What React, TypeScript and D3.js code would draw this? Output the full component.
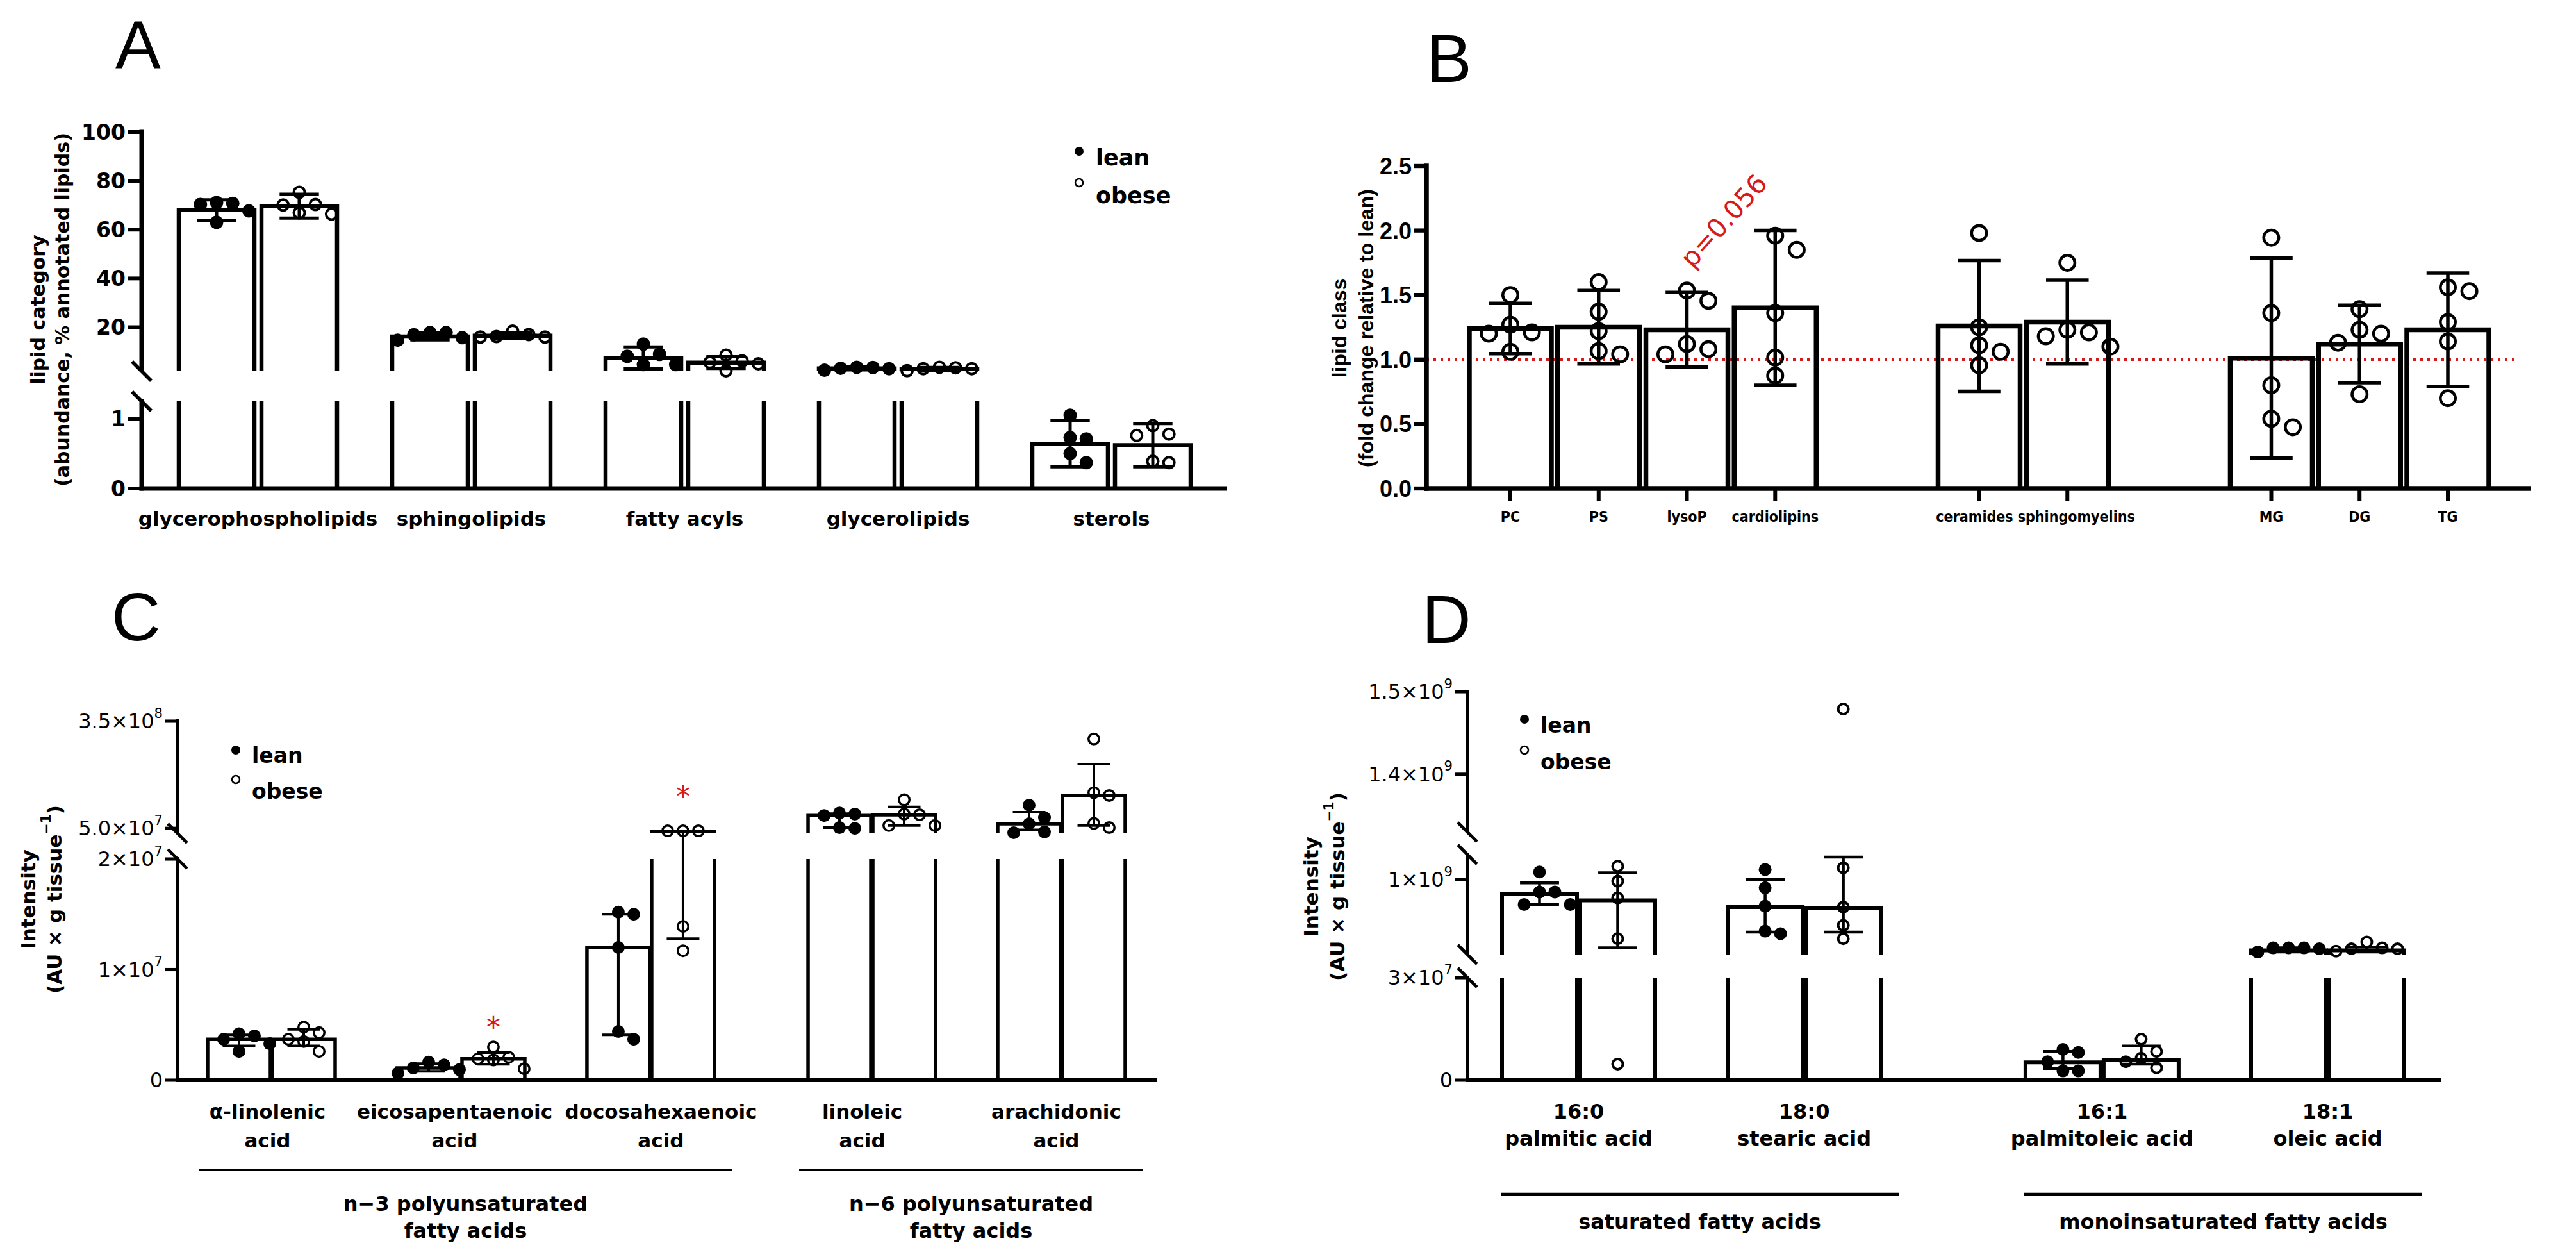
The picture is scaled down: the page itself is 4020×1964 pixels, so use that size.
import React from 'react';
import * as d3 from 'd3';

type Seg = { domain: [number, number]; range: [number, number] };
type Tick = [number, string];

// ---------- Panel A: lipid categories, % of annotated lipids (mean ± SD)
const aCategories = ['glycerophospholipids', 'sphingolipids', 'fatty acyls', 'glycerolipids', 'sterols'];
const aLeanMean = [68.0, 16.2, 7.4, 3.1, 0.64];
const aLeanSd = [4.2, 1.4, 4.5, 0.6, 0.33];
const aLeanPts = [
  [71.1, 70.3, 63.0, 67.7, 70.8],
  [17.8, 16.9, 14.7, 15.7, 17.8],
  [13.1, 8.1, 4.7, 4.7, 8.9],
  [3.6, 3.2, 2.4, 3.0, 3.5],
  [1.05, 0.73, 0.71, 0.5, 0.37],
];
const aObeseMean = [69.6, 16.5, 5.5, 2.9, 0.62];
const aObeseSd = [4.9, 1.1, 2.4, 0.6, 0.31];
const aObesePts = [
  [70.3, 66.4, 75.3, 66.9, 70.1],
  [18.4, 16.0, 16.0, 16.2, 17.0],
  [8.6, 5.0, 2.1, 5.6, 6.2],
  [3.6, 3.0, 2.2, 3.0, 3.4],
  [0.9, 0.78, 0.76, 0.39, 0.37],
];
const aYTicks: Tick[] = [[0, '0'], [1, '1'], [20, '20'], [40, '40'], [60, '60'], [80, '80'], [100, '100']];

// ---------- Panel B: lipid classes, fold change obese vs lean (mean ± SD)
const bClasses = ['PC', 'PS', 'lysoP', 'cardiolipins', 'ceramides', 'sphingomyelins', 'MG', 'DG', 'TG'];
const bClassGroup = [0, 0, 0, 0, 1, 1, 2, 2, 2];
const bMean = [1.24, 1.25, 1.23, 1.4, 1.26, 1.29, 1.01, 1.12, 1.23];
const bSd = [0.195, 0.285, 0.29, 0.6, 0.507, 0.325, 0.775, 0.3, 0.44];
const bPts = [
  [1.5, 1.27, 1.21, 1.2, 1.06],
  [1.6, 1.37, 1.22, 1.065, 1.04],
  [1.535, 1.455, 1.12, 1.08, 1.04],
  [1.96, 1.85, 1.36, 1.015, 0.875],
  [1.98, 1.25, 1.11, 1.06, 0.955],
  [1.75, 1.23, 1.21, 1.18, 1.1],
  [1.945, 1.36, 0.8, 0.54, 0.475],
  [1.39, 1.23, 1.2, 1.13, 0.73],
  [1.56, 1.53, 1.29, 1.14, 0.7],
];
const bYTicks: Tick[] = [[0, '0.0'], [0.5, '0.5'], [1, '1.0'], [1.5, '1.5'], [2, '2.0'], [2.5, '2.5']];
const bReference = 1.0;
const bPValue = { text: 'p=0.056', cls: 3, value: 1.7 };

// ---------- Panel C: polyunsaturated fatty acids (median, IQR)
const cAcids = ['α-linolenic\nacid', 'eicosapentaenoic\nacid', 'docosahexaenoic\nacid', 'linoleic\nacid', 'arachidonic\nacid'];
const cFamily = [0, 0, 0, 1, 1];
const cFamilies = ['n−3 polyunsaturated\nfatty acids', 'n−6 polyunsaturated\nfatty acids'];
const cLeanMedian = [3.7e6, 1.1e6, 1.2e7, 8.6e7, 6.3e7];
const cLeanIqr = [[3.1e6, 4.1e6], [0.8e6, 1.5e6], [4.1e6, 1.5e7], [5.2e7, 9.1e7], [4.6e7, 9.5e7]];
const cLeanPts = [
  [4.2e6, 3.7e6, 2.6e6, 3.3e6, 4.0e6],
  [1.64e6, 0.95e6, 0.63e6, 1.1e6, 1.38e6],
  [1.5e7, 1.52e7, 1.2e7, 3.7e6, 4.4e6],
  [9.3e7, 8.6e7, 5.0e7, 5.2e7, 9.0e7],
  [6.3e7, 3.8e7, 1.15e8, 4.0e7, 8.0e7],
];
const cObeseMedian = [3.7e6, 1.93e6, 4.2e7, 8.8e7, 1.42e8];
const cObeseIqr = [[3.1e6, 4.6e6], [1.43e6, 2.5e6], [1.28e7, 4.3e7], [5.8e7, 1.1e8], [5.8e7, 2.3e8]];
const cObesePts = [
  [3.7e6, 2.6e6, 4.8e6, 3.5e6, 4.3e6],
  [1.93e6, 1.03e6, 3.0e6, 1.83e6, 2.07e6],
  [4.3e7, 4.3e7, 4.3e7, 1.39e7, 1.17e7],
  [9.0e7, 5.8e7, 1.3e8, 5.8e7, 8.8e7],
  [3.0e8, 1.5e8, 1.42e8, 5.2e7, 6.4e7],
];
const cStars: [number, number][] = [[1, 5.3e6], [2, 1.55e8]];
const cYTicks: Tick[] = [[0, '0'], [1e7, '1×10^{7}'], [2e7, '2×10^{7}'], [5e7, '5.0×10^{7}'], [3.5e8, '3.5×10^{8}']];

// ---------- Panel D: saturated / monounsaturated fatty acids (median, IQR)
const dAcids = ['16:0\npalmitic acid', '18:0\nstearic acid', '16:1\npalmitoleic acid', '18:1\noleic acid'];
const dFamily = [0, 0, 1, 1];
const dFamilies = ['saturated fatty acids', 'monoinsaturated fatty acids'];
const dLeanMedian = [9.83e8, 9.67e8, 5.2e6, 9.15e8];
const dLeanIqr = [[9.7e8, 9.96e8], [9.37e8, 1.0e9], [3.4e6, 8.4e6], [9.13e8, 9.18e8]];
const dLeanPts = [
  [9.85e8, 9.7e8, 1.009e9, 9.7e8, 9.85e8],
  [1.012e9, 9.9e8, 9.68e8, 9.35e8, 9.38e8],
  [5.4e6, 2.7e6, 9.0e6, 2.7e6, 8.1e6],
  [9.18e8, 9.18e8, 9.13e8, 9.17e8, 9.18e8],
];
const dObeseMedian = [9.75e8, 9.66e8, 6.0e6, 9.15e8];
const dObeseIqr = [[9.18e8, 1.008e9], [9.37e8, 1.027e9], [4.7e6, 1.0e7], [9.13e8, 9.19e8]];
const dObesePts = [
  [1.016e9, 9.98e8, 9.78e8, 9.29e8, 4.7e6],
  [1.479e9, 1.014e9, 9.67e8, 9.45e8, 9.29e8],
  [6.4e6, 3.6e6, 1.2e7, 5.4e6, 8.4e6],
  [9.25e8, 9.17e8, 9.14e8, 9.17e8, 9.18e8],
];
const dYTicks: Tick[] = [[0, '0'], [3e7, '3×10^{7}'], [1e9, '1×10^{9}'], [1.4e9, '1.4×10^{9}'], [1.5e9, '1.5×10^{9}']];

const LUC = '"DejaVu Sans", Verdana, sans-serif';
const LUC_COND = '"DejaVu Sans Condensed", "DejaVu Sans", sans-serif';
const ARIAL = '"Liberation Sans", Arial, sans-serif';
const RED = '#d7191c';

// small sideways nudges of category labels (as laid out in the figure)
const bLabelNudge = [0, 0, 0, 0, -7, 14, 0, 0, 0];
const cLabelNudge = [-6, -10, 16, -15, -8];

// piecewise (broken) y scale
function brokenY(segs: Seg[]) {
  const sc = segs.map(s => d3.scaleLinear().domain(s.domain).range(s.range));
  const y = (v: number) => {
    for (let i = 0; i < segs.length; i++) {
      const d = segs[i].domain;
      if (v <= d[1] || i === segs.length - 1) return sc[i](i > 0 ? Math.max(v, d[0]) : v);
    }
    return 0;
  };
  return { sc, y };
}

// spread overlapping points sideways, like a column scatter
function swarm(vals: number[], y: (v: number) => number, r: number, step: number) {
  const order = vals.map((_, i) => i).sort((a, b) => vals[b] - vals[a]);
  const placed: { x: number; y: number }[] = [];
  const out: { dx: number; y: number }[] = new Array(vals.length);
  const cands = [0, 1, -1, 2, -2, 3, -3];
  for (const i of order) {
    const py = y(vals[i]);
    let px = 0;
    for (const c of cands) {
      const cx = c * step;
      if (!placed.some(p => Math.abs(p.x - cx) < step * 0.9 && Math.abs(p.y - py) < 2 * r)) { px = cx; break; }
    }
    placed.push({ x: px, y: py });
    out[i] = { dx: px, y: py };
  }
  return out;
}

function rich(s: string, fs: number) {
  const parts = s.split(/\^\{([^}]*)\}/);
  return parts.map((p, i) => {
    if (i % 2 === 1) return <tspan key={i} dy={-0.42 * fs} fontSize={fs * 0.66}>{p}</tspan>;
    if (i > 0) return <tspan key={i} dy={0.42 * fs}>{p}</tspan>;
    return <tspan key={i}>{p}</tspan>;
  });
}

type BarSpec = { x0: number; w: number; value: number; lo: number; hi: number; pts: number[]; filled: boolean };

type PanelProps = {
  id: string; segs: Seg[]; axisX: number; axisEnd: number; axisW: number; tickLen: number;
  ticks: Tick[]; tickFont: string; tickSize: number; tickWeight: string | number;
  bars: BarSpec[]; barStroke: number; errStroke: number; r: number; ptStroke: number;
  xTicks?: number[];
};

function Panel(p: PanelProps) {
  const { sc, y } = brokenY(p.segs);
  const y0 = p.segs[0].range[0];
  const els: React.ReactNode[] = [];
  const k = (s: string) => p.id + s + els.length;

  p.segs.forEach((s, i) => {
    const yb = i === 0 ? y0 + p.axisW / 2 : s.range[0];
    els.push(<line key={k('ya')} x1={p.axisX} x2={p.axisX} y1={yb} y2={s.range[1] - p.axisW / 2} stroke="#000" strokeWidth={p.axisW} />);
  });
  for (let i = 0; i < p.segs.length - 1; i++) {
    [p.segs[i].range[1], p.segs[i + 1].range[0]].forEach(by => {
      els.push(<line key={k('br')} x1={p.axisX - 15} y1={by - 15} x2={p.axisX + 15} y2={by + 15} stroke="#000" strokeWidth={p.axisW * 0.8} />);
    });
  }
  els.push(<line key={k('xa')} x1={p.axisX - p.axisW / 2} x2={p.axisEnd} y1={y0} y2={y0} stroke="#000" strokeWidth={p.axisW} />);
  p.ticks.forEach(([v, lab]) => {
    const ty = y(v);
    els.push(<line key={k('t')} x1={p.axisX - p.tickLen} x2={p.axisX} y1={ty} y2={ty} stroke="#000" strokeWidth={p.axisW * 0.85} />);
    els.push(
      <text key={k('tl')} x={p.axisX - p.tickLen - 3} y={ty} textAnchor="end" dominantBaseline="central"
        fontFamily={p.tickFont} fontSize={p.tickSize} fontWeight={p.tickWeight}>{rich(lab, p.tickSize)}</text>
    );
  });
  (p.xTicks || []).forEach(cx => {
    els.push(<line key={k('xt')} x1={cx} x2={cx} y1={y0} y2={y0 + 20} stroke="#000" strokeWidth={p.axisW * 0.8} />);
  });

  // bar outlines, cut at the axis breaks
  p.bars.forEach(b => {
    const x1 = b.x0 + b.w;
    let d = '';
    p.segs.forEach((s, i) => {
      if (i > 0 && b.value <= s.domain[0]) return;
      if (b.value <= 0) return;
      const yb = s.range[0];
      const ends = b.value <= s.domain[1] || i === p.segs.length - 1;
      const yt = sc[i](Math.min(b.value, s.domain[1]));
      d += ends ? `M${b.x0},${yb}V${yt}H${x1}V${yb}` : `M${b.x0},${yb}V${yt}M${x1},${yt}V${yb}`;
    });
    els.push(<path key={k('bar')} d={d} fill="none" stroke="#000" strokeWidth={p.barStroke} strokeLinejoin="miter" />);
  });

  p.bars.forEach(b => {
    const cx = b.x0 + b.w / 2;
    const cw = b.w * 0.26;
    const yl = y(b.lo), yh = y(b.hi);
    els.push(
      <path key={k('err')} d={`M${cx},${yl}V${yh}M${cx - cw},${yh}H${cx + cw}M${cx - cw},${yl}H${cx + cw}`}
        fill="none" stroke="#000" strokeWidth={p.errStroke} />
    );
  });

  p.bars.forEach(b => {
    const cx = b.x0 + b.w / 2;
    swarm(b.pts, y, p.r, p.r * 2.4).forEach(pt => {
      els.push(
        <circle key={k('pt')} cx={cx + pt.dx} cy={pt.y} r={b.filled ? p.r : p.r - p.ptStroke / 2}
          fill={b.filled ? '#000' : 'none'} stroke="#000" strokeWidth={b.filled ? 0 : p.ptStroke} />
      );
    });
  });

  return <g>{els}</g>;
}

function YLabel({ cx, cy, gap, lines, font, size }: { cx: number; cy: number; gap: number; lines: string[]; font: string; size: number }) {
  return (
    <g transform={`translate(${cx},${cy}) rotate(-90)`}>
      {lines.map((l, i) => (
        <text key={i} x={0} y={(i - (lines.length - 1) / 2) * gap} textAnchor="middle" dominantBaseline="middle"
          fontFamily={font} fontWeight="bold" fontSize={size}>{rich(l, size)}</text>
      ))}
    </g>
  );
}

function Legend({ x, yLean, yObese, tx, bLean, bObese, size }: { x: number; yLean: number; yObese: number; tx: number; bLean: number; bObese: number; size: number }) {
  return (
    <g fontFamily={LUC} fontWeight="bold" fontSize={size}>
      <circle cx={x} cy={yLean} r={7} fill="#000" />
      <text x={tx} y={bLean}>lean</text>
      <circle cx={x} cy={yObese} r={6} fill="none" stroke="#000" strokeWidth={2.5} />
      <text x={tx} y={bObese}>obese</text>
    </g>
  );
}

function MultiLine({ x, y, gap, s, size, font = LUC }: { x: number; y: number; gap: number; s: string; size: number; font?: string }) {
  return (
    <text textAnchor="middle" fontFamily={font} fontWeight="bold" fontSize={size}>
      {s.split('\n').map((l, i) => <tspan key={i} x={x} y={y + i * gap}>{l}</tspan>)}
    </text>
  );
}

export default function App() {
  // ----- A layout
  const aSegs: Seg[] = [
    { domain: [0, 1.25], range: [762, 626] },
    { domain: [2, 100], range: [579, 206] },
  ];
  const aX = d3.scaleLinear().domain([0, aCategories.length - 1]).range([279, 1611]);
  const aW = 118, aOff = 129;
  const aBars: BarSpec[] = [];
  aCategories.forEach((_, i) => {
    aBars.push({ x0: aX(i), w: aW, value: aLeanMean[i], lo: aLeanMean[i] - aLeanSd[i], hi: aLeanMean[i] + aLeanSd[i], pts: aLeanPts[i], filled: true });
    aBars.push({ x0: aX(i) + aOff, w: aW, value: aObeseMean[i], lo: aObeseMean[i] - aObeseSd[i], hi: aObeseMean[i] + aObeseSd[i], pts: aObesePts[i], filled: false });
  });

  // ----- B layout
  const bGap = 1.31;
  const bSlot = (i: number) => i + bClassGroup[i] * bGap;
  const bX = d3.scaleLinear().domain([0, bSlot(bClasses.length - 1)]).range([2357, 3820]);
  const bSegs: Seg[] = [{ domain: [0, 2.5], range: [762, 259] }];
  const bYs = d3.scaleLinear().domain([0, 2.5]).range([762, 259]);
  const bW = 128;
  const bBars: BarSpec[] = bClasses.map((_, i) => ({
    x0: bX(bSlot(i)) - bW / 2, w: bW, value: bMean[i], lo: bMean[i] - bSd[i], hi: bMean[i] + bSd[i], pts: bPts[i], filled: false,
  }));

  // ----- C layout
  const cGap = 0.166;
  const cSlot = (i: number) => i + cFamily[i] * cGap;
  const cX = d3.scaleLinear().domain([0, cSlot(cAcids.length - 1)]).range([324, 1557]);
  const cSegs: Seg[] = [
    { domain: [0, 2e7], range: [1685, 1340] },
    { domain: [3.6e7, 3.5e8], range: [1300, 1125] },
  ];
  const cW = 98, cOff = 101;
  const cBars: BarSpec[] = [];
  cAcids.forEach((_, i) => {
    const x = cX(cSlot(i));
    cBars.push({ x0: x, w: cW, value: cLeanMedian[i], lo: cLeanIqr[i][0], hi: cLeanIqr[i][1], pts: cLeanPts[i], filled: true });
    cBars.push({ x0: x + cOff, w: cW, value: cObeseMedian[i], lo: cObeseIqr[i][0], hi: cObeseIqr[i][1], pts: cObesePts[i], filled: false });
  });
  const cY = brokenY(cSegs).y;

  // ----- D layout
  const dGap = 0.32;
  const dSlot = (i: number) => i + dFamily[i] * dGap;
  const dX = d3.scaleLinear().domain([0, dSlot(dAcids.length - 1)]).range([2344, 3513]);
  const dSegs: Seg[] = [
    { domain: [0, 3e7], range: [1685, 1525] },
    { domain: [9.1e8, 1.03e9], range: [1489, 1333] },
    { domain: [1.33e9, 1.5e9], range: [1298, 1079] },
  ];
  const dW = 117, dOff = 122;
  const dBars: BarSpec[] = [];
  dAcids.forEach((_, i) => {
    const x = dX(dSlot(i));
    dBars.push({ x0: x, w: dW, value: dLeanMedian[i], lo: dLeanIqr[i][0], hi: dLeanIqr[i][1], pts: dLeanPts[i], filled: true });
    dBars.push({ x0: x + dOff, w: dW, value: dObeseMedian[i], lo: dObeseIqr[i][0], hi: dObeseIqr[i][1], pts: dObesePts[i], filled: false });
  });

  const familyLine = (members: number[], left: (i: number) => number, w: number, off: number, padL: number, padR: number) => {
    const x1 = left(members[0]) - padL;
    const x2 = left(members[members.length - 1]) + off + w + padR;
    return [x1, x2];
  };

  return (
    <div>
      <style>{'body{margin:0;background:#fff}'}</style>
      <svg width={4020} height={1964} viewBox="0 0 4020 1964" style={{ display: 'block', background: '#fff' }}>
        {/* panel letters */}
        <g fontFamily={ARIAL} fontSize={106}>
          <text x={180} y={106}>A</text>
          <text x={2226} y={128}>B</text>
          <text x={174} y={999}>C</text>
          <text x={2219} y={1003}>D</text>
        </g>

        {/* ===== A ===== */}
        <Panel id="a" segs={aSegs} axisX={221} axisEnd={1915} axisW={7} tickLen={22} ticks={aYTicks}
          tickFont={LUC} tickSize={33} tickWeight="bold" bars={aBars} barStroke={6.5} errStroke={5} r={10.5} ptStroke={4} />
        <YLabel cx={80} cy={483} gap={38} lines={['lipid category', '(abundance, % annotated lipids)']} font={LUC} size={30} />
        {aCategories.map((c, i) => (
          <text key={c} x={aX(i) + (aOff + aW) / 2} y={820} textAnchor="middle" fontFamily={LUC} fontWeight="bold" fontSize={31}>{c}</text>
        ))}
        <Legend x={1684} yLean={236} yObese={285} tx={1710} bLean={258} bObese={317} size={35} />

        {/* ===== B ===== */}
        <line x1={2226} x2={3928} y1={bYs(bReference)} y2={bYs(bReference)} stroke={RED} strokeWidth={4.5} strokeDasharray="4 7" />
        <Panel id="b" segs={bSegs} axisX={2226} axisEnd={3950} axisW={7.5} tickLen={20} ticks={bYTicks}
          tickFont={ARIAL} tickSize={36} tickWeight="bold" bars={bBars} barStroke={7.5} errStroke={5.5} r={14} ptStroke={4.5}
          xTicks={bClasses.map((_, i) => bX(bSlot(i)))} />
        <YLabel cx={2114} cy={512} gap={42} lines={['lipid class', '(fold change relative to lean)']} font={ARIAL} size={32} />
        {bClasses.map((c, i) => (
          <text key={c} x={bX(bSlot(i)) + bLabelNudge[i]} y={814} textAnchor="middle" fontFamily={LUC_COND} fontStretch="condensed"
            fontWeight="bold" fontSize={23}>{c}</text>
        ))}
        <text transform={`translate(${bX(bSlot(bPValue.cls)) - 129},${bYs(bPValue.value)}) rotate(-48)`}
          fontFamily={LUC} fontSize={41} fill={RED}>{bPValue.text}</text>

        {/* ===== C ===== */}
        <Panel id="c" segs={cSegs} axisX={277} axisEnd={1805} axisW={6} tickLen={20} ticks={cYTicks}
          tickFont={LUC} tickSize={32} tickWeight="normal" bars={cBars} barStroke={5.5} errStroke={4} r={10} ptStroke={3.5} />
        <YLabel cx={66} cy={1403} gap={41} lines={['Intensity', '(AU × g tissue^{−1})']} font={LUC} size={31} />
        {cAcids.map((c, i) => (
          <MultiLine key={c} x={cX(cSlot(i)) + (cOff + cW) / 2 + cLabelNudge[i]} y={1745} gap={45} s={c} size={31} />
        ))}
        {cFamilies.map((f, fi) => {
          const members = cFamily.map((g, i) => (g === fi ? i : -1)).filter(i => i >= 0);
          const [x1, x2] = familyLine(members, i => cX(cSlot(i)), cW, cOff, 14, 28);
          return (
            <g key={f}>
              <line x1={x1} x2={x2} y1={1825} y2={1825} stroke="#000" strokeWidth={4} />
              <MultiLine x={(x1 + x2) / 2} y={1889} gap={42} s={f} size={32} />
            </g>
          );
        })}
        {cStars.map(([ci, v]) => (
          <text key={ci} x={cX(cSlot(ci)) + cOff + cW / 2} y={cY(v) + 24} textAnchor="middle" fontFamily={LUC} fontSize={44} fill={RED}>*</text>
        ))}
        <Legend x={368} yLean={1170} yObese={1216} tx={393} bLean={1190} bObese={1246} size={33} />

        {/* ===== D ===== */}
        <Panel id="d" segs={dSegs} axisX={2290} axisEnd={3810} axisW={6} tickLen={20} ticks={dYTicks}
          tickFont={LUC} tickSize={32} tickWeight="normal" bars={dBars} barStroke={6} errStroke={4.5} r={10} ptStroke={4} />
        <YLabel cx={2068} cy={1383} gap={41} lines={['Intensity', '(AU × g tissue^{−1})']} font={LUC} size={31} />
        {dAcids.map((c, i) => (
          <MultiLine key={c} x={dX(dSlot(i)) + (dOff + dW) / 2} y={1745} gap={42} s={c} size={32} />
        ))}
        {dFamilies.map((f, fi) => {
          const members = dFamily.map((g, i) => (g === fi ? i : -1)).filter(i => i >= 0);
          const [x1, x2] = familyLine(members, i => dX(dSlot(i)), dW, dOff, 2, 28);
          return (
            <g key={f}>
              <line x1={x1} x2={x2} y1={1863} y2={1863} stroke="#000" strokeWidth={4.5} />
              <MultiLine x={(x1 + x2) / 2} y={1917} gap={42} s={f} size={32} />
            </g>
          );
        })}
        <Legend x={2379} yLean={1122} yObese={1170} tx={2404} bLean={1143} bObese={1200} size={33} />
      </svg>
    </div>
  );
}
